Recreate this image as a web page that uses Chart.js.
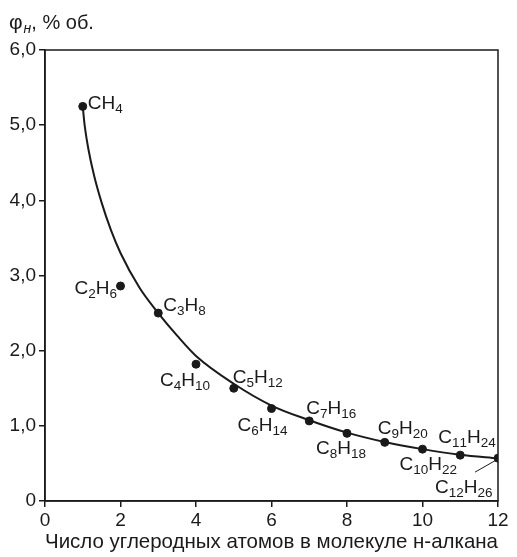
<!DOCTYPE html>
<html lang="ru">
<head>
    <meta charset="UTF-8">
    <title>Нижний концентрационный предел н-алканов</title>
    <script src="https://cdn.jsdelivr.net/npm/chart.js@4.4.1/dist/chart.umd.min.js"></script>
    <style>
        body { margin: 0; background: #fff; }
    </style>
</head>
<body>
    <canvas id="chart" width="517" height="557"></canvas>
    <script>
        // measured points (number of C atoms, % vol)
        const formulas = ['CH4', 'C2H6', 'C3H8', 'C4H10', 'C5H12', 'C6H14', 'C7H16', 'C8H18', 'C9H20', 'C10H22', 'C11H24', 'C12H26'];
        const carbonAtoms = [1, 2, 3, 4, 5, 6, 7, 8, 9, 10, 11, 12];
        const lowerLimit = [5.25, 2.86, 2.50, 1.82, 1.50, 1.23, 1.065, 0.90, 0.78, 0.69, 0.61, 0.57];

        // smoothed curve
        const curveX = [1, 1.05, 1.15, 1.3, 1.5, 1.75, 2, 2.5, 3, 3.5, 4, 5, 6, 7, 8, 9, 10, 11, 12];
        const curveY = [5.25, 5.00, 4.68, 4.33, 3.97, 3.60, 3.30, 2.84, 2.50, 2.20, 1.93, 1.56, 1.27, 1.075, 0.91, 0.785, 0.69, 0.615, 0.565];

        const xTickLabels = ['0', '2', '4', '6', '8', '10', '12'];
        const yTickLabels = ['0', '1,0', '2,0', '3,0', '4,0', '5,0', '6,0'];

        // label placement relative to each point: [dx, baseline dy]
        const labelOffsets = [[5, 3], [-46, 8], [5, -2], [-36, 22], [-1, -5], [-34, 22], [-3, -7], [-31, 21], [-7, -8], [-23, 21], [-22, -12], [-63, 35]];

        const FONT = '"Liberation Sans", Arial, sans-serif';

        function drawFormula(ctx, text, x, y) {
            let cx = x;
            for (const ch of text) {
                const sub = ch >= '0' && ch <= '9';
                ctx.font = (sub ? '13.5px ' : '19px ') + FONT;
                ctx.fillText(ch, cx, sub ? y + 4 : y);
                cx += ctx.measureText(ch).width;
            }
        }

        const extras = {
            id: 'extras',
            afterDatasetsDraw(chart) {
                const ctx = chart.ctx;
                const a = chart.chartArea;
                const xs = chart.scales.x, ys = chart.scales.y;
                ctx.save();
                // frame
                ctx.strokeStyle = '#1a1a1a';
                ctx.lineWidth = 1.5;
                ctx.strokeRect(a.left, a.top, a.right - a.left, a.bottom - a.top);

                ctx.fillStyle = '#1a1a1a';
                ctx.textBaseline = 'alphabetic';
                ctx.textAlign = 'left';
                formulas.forEach((f, i) => {
                    const px = xs.getPixelForValue(carbonAtoms[i]);
                    const py = ys.getPixelForValue(lowerLimit[i]);
                    drawFormula(ctx, f, px + labelOffsets[i][0], py + labelOffsets[i][1]);
                });

                // leader for C12H26
                const lx = xs.getPixelForValue(carbonAtoms[11]);
                const ly = ys.getPixelForValue(lowerLimit[11]);
                ctx.lineWidth = 1;
                ctx.beginPath();
                ctx.moveTo(lx - 23, ly + 14);
                ctx.lineTo(lx - 2, ly + 2);
                ctx.stroke();

                // y axis title
                ctx.font = '21px ' + FONT;
                ctx.fillText('φ', 9, 29);
                let w = ctx.measureText('φ').width + 1;
                ctx.font = 'italic 14px ' + FONT;
                ctx.fillText('н', 9 + w, 33);
                w += ctx.measureText('н').width;
                ctx.font = '20px ' + FONT;
                ctx.fillText(', % об.', 9 + w, 29);
                ctx.restore();
            }
        };

        const ctx = document.getElementById('chart').getContext('2d');
        const myChart = new Chart(ctx, {
            type: 'scatter',
            data: {
                datasets: [{
                    label: 'curve',
                    data: curveX.map((x, i) => ({ x: x, y: curveY[i] })),
                    showLine: true,
                    borderColor: '#1a1a1a',
                    borderWidth: 2,
                    pointRadius: 0,
                    cubicInterpolationMode: 'monotone'
                }, {
                    label: 'points',
                    data: carbonAtoms.map((x, i) => ({ x: x, y: lowerLimit[i] })),
                    backgroundColor: '#1a1a1a',
                    borderColor: '#1a1a1a',
                    pointRadius: 4
                }]
            },
            options: {
                responsive: false,
                animation: false,
                layout: { padding: { top: 50, right: 19, left: 0, bottom: 0 } },
                plugins: { legend: { display: false }, tooltip: { enabled: false } },
                scales: {
                    x: {
                        type: 'linear',
                        min: 0, max: 12,
                        afterFit(s) { s.height = 56; },
                        ticks: {
                            stepSize: 2,
                            padding: 2,
                            color: '#1a1a1a',
                            font: { family: FONT, size: 19 },
                            callback: (v, i) => xTickLabels[i]
                        },
                        grid: { drawOnChartArea: false, tickLength: 6, color: '#1a1a1a', lineWidth: 1.5 },
                        border: { color: '#1a1a1a', width: 1.5 },
                        title: {
                            display: true,
                            text: 'Число углеродных атомов в молекуле н-алкана',
                            color: '#1a1a1a',
                            font: { family: FONT, size: 21 },
                            padding: { top: 0, bottom: 2 }
                        }
                    },
                    y: {
                        min: 0, max: 6,
                        afterFit(s) { s.width = 45; },
                        ticks: {
                            stepSize: 1,
                            padding: 3,
                            color: '#1a1a1a',
                            font: { family: FONT, size: 19 },
                            callback: (v, i) => yTickLabels[i]
                        },
                        grid: { drawOnChartArea: false, tickLength: 6, color: '#1a1a1a', lineWidth: 1.5 },
                        border: { color: '#1a1a1a', width: 1.5 }
                    }
                }
            },
            plugins: [extras]
        });
    </script>
</body>
</html>
